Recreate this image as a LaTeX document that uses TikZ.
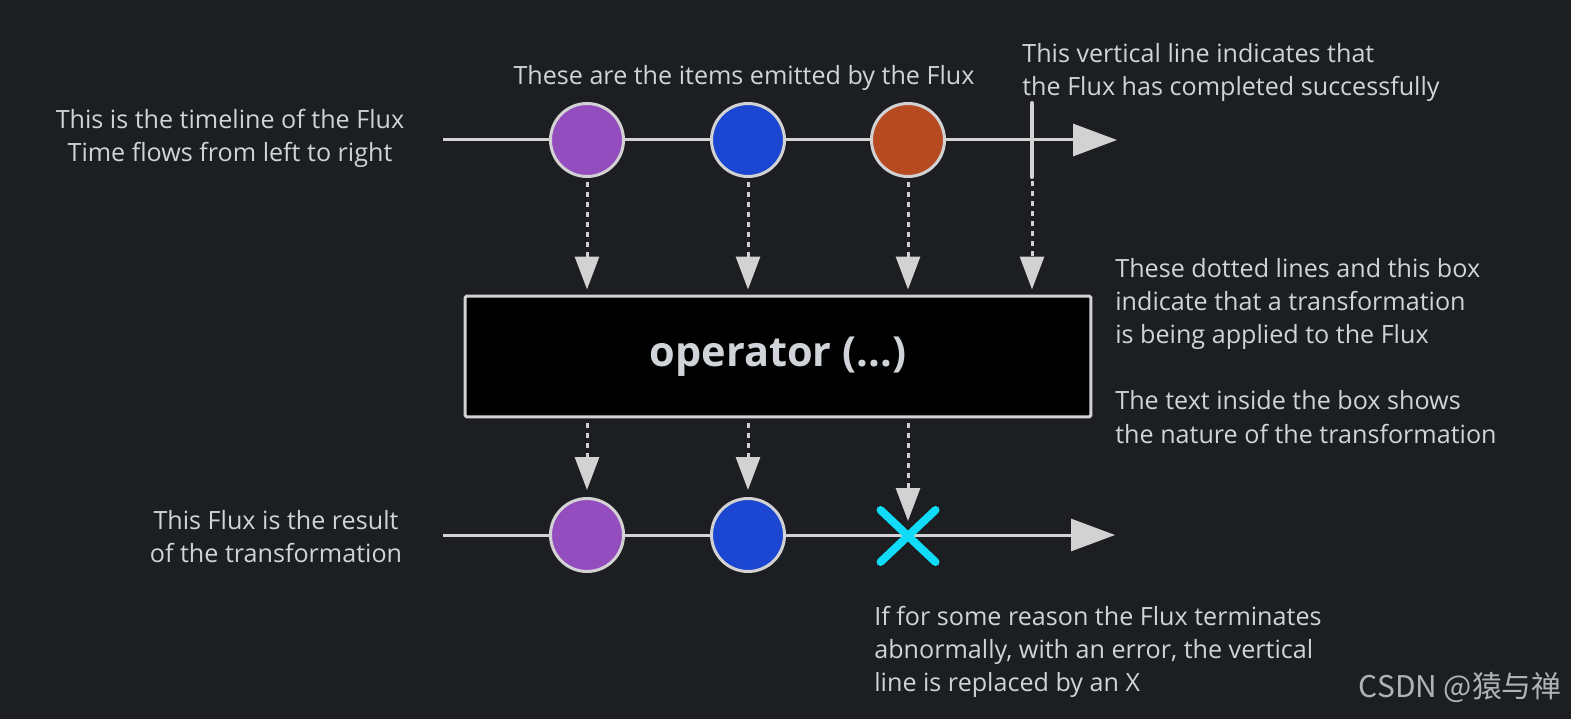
\documentclass[tikz,border=0pt]{standalone}
\usepackage{fontspec}
\setmainfont{Open Sans}
\newfontfamily\cjkfont{Noto Sans CJK SC}
\usetikzlibrary{arrows.meta,shapes.misc}
\definecolor{bg}{HTML}{1C1E22}
\definecolor{fg}{HTML}{D0D3D7}
\definecolor{rim}{HTML}{D2D2D2}
\definecolor{purp}{HTML}{944DBF}
\definecolor{blu}{HTML}{1A46D1}
\definecolor{orng}{HTML}{B84A22}
\definecolor{errc}{HTML}{10DCF8}
\definecolor{wmark}{HTML}{B0B2B4}
\tikzset{
 tline/.style={draw=rim,line width=0.06cm,-{Triangle[width=0.64cm,length=0.88cm]}},
 item/.style={circle,draw=rim,line width=0.06cm,minimum size=1.46cm,inner sep=0},
 dots/.style={draw=rim,line width=0.06cm,dash pattern=on 0.1cm off 0.1cm,
  -{Triangle[width=0.48cm,length=0.66cm]}},
 opbox/.style={draw=rim,fill=black,line width=0.06cm,rounded corners=1pt,
  minimum width=12.52cm,minimum height=2.42cm,
  font=\bfseries\fontsize{23.6}{26}\selectfont},
}
\begin{document}
\begin{tikzpicture}[x=0.02cm,y=-0.02cm, every node/.style={text=fg,font=\fontsize{14.3}{18.8}\selectfont}]
 \fill[bg] (0,0) rectangle (1571,719);
 \useasboundingbox (0,0) rectangle (1571,719);
 % source timeline
 \coordinate (s1) at (443,140);
 \coordinate (e1) at (1117,140);
 \draw[tline] (s1) -- (e1);
 \node[item,fill=purp] (a1) at (587,140) {};
 \node[item,fill=blu] (a2) at (748,140) {};
 \node[item,fill=orng] (a3) at (908,140) {};
 \coordinate (c1) at (1032,103);
 \coordinate (c2) at (1032,177);
 \draw[rim,line width=0.08cm,line cap=round] (c1) -- (c2);
 % operator box
 \node[opbox] (op) at (778,356.5) {operator (...)};
 \draw[dots,shorten <=0.08cm,shorten >=0.1cm] (a1.south) -- (a1 |- op.north);
 \draw[dots,shorten <=0.08cm,shorten >=0.1cm] (a2.south) -- (a2 |- op.north);
 \draw[dots,shorten <=0.08cm,shorten >=0.1cm] (a3.south) -- (a3 |- op.north);
 \draw[dots,shorten <=0.08cm,shorten >=0.1cm] (c2) -- (c2 |- op.north);
 % result timeline
 \coordinate (s2) at (443,535);
 \coordinate (e2) at (1115,535);
 \draw[tline] (s2) -- (e2);
 \node[item,fill=purp] (b1) at (587,535) {};
 \node[item,fill=blu] (b2) at (748,535) {};
 \node[cross out,draw=errc,line width=0.16cm,line cap=round,inner sep=0,
  minimum width=0.94cm,minimum height=0.88cm] (x) at (908,536) {};
 \draw[dots,shorten <=0.1cm,shorten >=0.14cm] (a1 |- op.south) -- (b1.north);
 \draw[dots,shorten <=0.1cm,shorten >=0.14cm] (a2 |- op.south) -- (b2.north);
 \draw[dots,shorten <=0.1cm,shorten >=0.3cm] (a3 |- op.south) -- (x.center);
 % labels
 \node[align=center] (lab1) at (230,138) {This is the timeline of the Flux\\Time flows from left to right};
 \node (lab2) at (744,78) {These are the items emitted by the Flux};
 \node[anchor=west,align=left,inner sep=0] (lab3) at (1022,72)
  {This vertical line indicates that\\the Flux has completed successfully};
 \node[anchor=west,align=left,inner sep=0] (lab4) at (1115,351)
  {These dotted lines and this box\\indicate that a transformation\\is being applied to the Flux\\[18.8pt]The text inside the box shows\\the nature of the transformation};
 \node[align=center] (lab5) at (276,537) {This Flux is the result\\of the transformation};
 \node[anchor=west,align=left,inner sep=0] (lab6) at (874,652)
  {If for some reason the Flux terminates\\abnormally, with an error, the vertical\\line is replaced by an X};
 \node[anchor=east,inner sep=0,text=wmark,font=\cjkfont\fontsize{17}{20}\selectfont] (wm) at (1562,688) {CSDN @猿与禅};
\end{tikzpicture}
\end{document}
